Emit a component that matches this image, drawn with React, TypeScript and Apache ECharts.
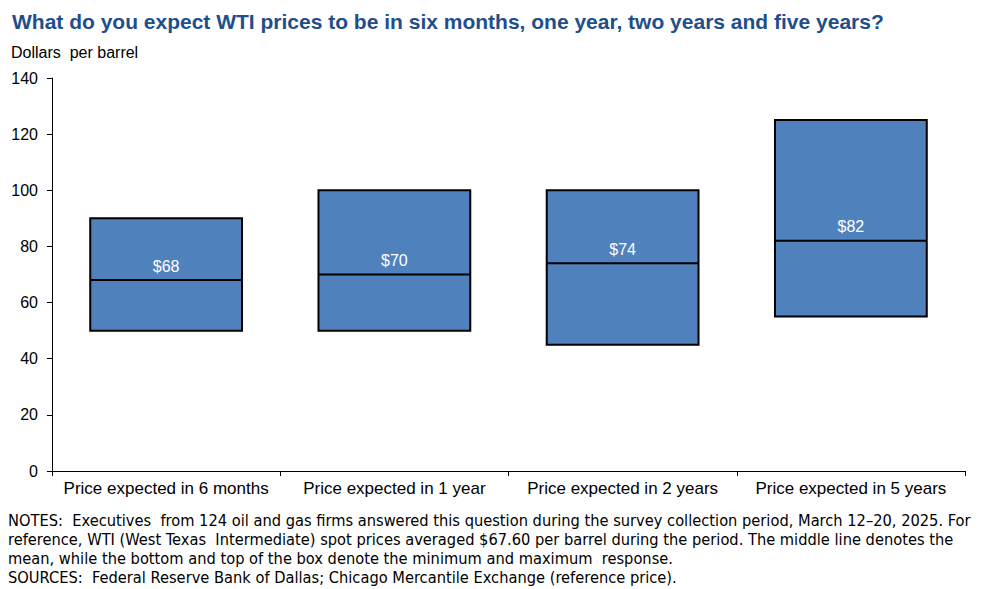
import React, { useEffect, useRef } from "react";
import * as echarts from "echarts";

const categories = [
  "Price expected in 6 months",
  "Price expected in 1 year",
  "Price expected in 2 years",
  "Price expected in 5 years",
];
const minValues = [50, 50, 45, 55];
const maxValues = [90, 100, 100, 125];
const meanValues = [68, 70, 74, 82];
const meanLabels = ["$68", "$70", "$74", "$82"];
const yTicks = { min: 0, max: 140, interval: 20 };

const titleText =
  "What do you expect WTI prices to be in six months, one year, two years and five years?";
const unitText = "Dollars  per barrel";
const notesLines = [
  "NOTES:  Executives  from 124 oil and gas firms answered this question during the survey collection period, March 12–20, 2025. For",
  "reference, WTI (West Texas  Intermediate) spot prices averaged $67.60 per barrel during the period. The middle line denotes the",
  "mean, while the bottom and top of the box denote the minimum and maximum  response.",
  "SOURCES:  Federal Reserve Bank of Dallas; Chicago Mercantile Exchange (reference price).",
];

const FONT = "'Liberation Sans', Arial, sans-serif";
const NARROW = "'Liberation Sans Narrow', 'DejaVu Sans Condensed', 'Liberation Sans', sans-serif";

export default function App() {
  const ref = useRef<HTMLDivElement>(null);
  useEffect(() => {
    if (!ref.current) return;
    const chart = echarts.init(ref.current, undefined, { renderer: "svg" });
    const data = categories.map((_, i) => [i, minValues[i], maxValues[i], meanValues[i]]);
    chart.setOption({
      animation: false,
      backgroundColor: "#ffffff",
      grid: { left: 52, right: 32, top: 78, bottom: 118, containLabel: false },
      xAxis: {
        type: "category",
        data: categories,
        boundaryGap: true,
        axisLine: { lineStyle: { color: "#000", width: 1 } },
        axisTick: { show: true, length: 5, inside: false, lineStyle: { color: "#000" } },
        axisLabel: { color: "#000", fontFamily: FONT, fontSize: 17, margin: 9, interval: 0 },
        splitLine: { show: false },
      },
      yAxis: {
        type: "value",
        min: yTicks.min,
        max: yTicks.max,
        interval: yTicks.interval,
        axisLine: { show: true, lineStyle: { color: "#000", width: 1 } },
        axisTick: { show: true, length: 5, lineStyle: { color: "#000" } },
        axisLabel: { color: "#000", fontFamily: FONT, fontSize: 16, margin: 14 },
        splitLine: { show: false },
      },
      series: [
        {
          type: "custom",
          data,
          encode: { x: 0, y: [1, 2, 3] },
          renderItem: (params: any, api: any) => {
            const idx = api.value(0);
            const lo = api.coord([idx, api.value(1)]);
            const hi = api.coord([idx, api.value(2)]);
            const mid = api.coord([idx, api.value(3)]);
            const band = api.size([1, 0])[0];
            const w = band * 0.665;
            const x0 = lo[0] - w / 2;
            return {
              type: "group",
              children: [
                {
                  type: "rect",
                  shape: { x: x0, y: hi[1], width: w, height: lo[1] - hi[1] },
                  style: { fill: "#4F81BD", stroke: "#000", lineWidth: 2 },
                },
                {
                  type: "line",
                  shape: { x1: x0, y1: mid[1], x2: x0 + w, y2: mid[1] },
                  style: { stroke: "#000", lineWidth: 2 },
                },
                {
                  type: "text",
                  style: {
                    text: meanLabels[params.dataIndex],
                    x: lo[0],
                    y: mid[1] - 6,
                    fill: "#ffffff",
                    font: `16px ${FONT}`,
                    align: "center",
                    verticalAlign: "bottom",
                  },
                },
              ],
            };
          },
        },
      ],
      graphic: [
        {
          type: "text",
          left: 12,
          top: 11,
          style: {
            text: titleText,
            fill: "#1F4E8C",
            font: `bold 21px ${FONT}`,
          },
        },
        {
          type: "text",
          left: 11,
          top: 44,
          style: { text: unitText, fill: "#000", font: `16px ${FONT}` },
        },
        ...notesLines.map((t, i) => ({
          type: "text",
          left: 8,
          top: 512 + i * 19,
          style: { text: t, fill: "#000", font: `16.3px ${NARROW}` },
        })),
      ],
    });
    return () => chart.dispose();
  }, []);
  return (
    <div
      ref={ref}
      style={{ position: "fixed", left: 0, top: 0, width: 997, height: 589 }}
    />
  );
}
